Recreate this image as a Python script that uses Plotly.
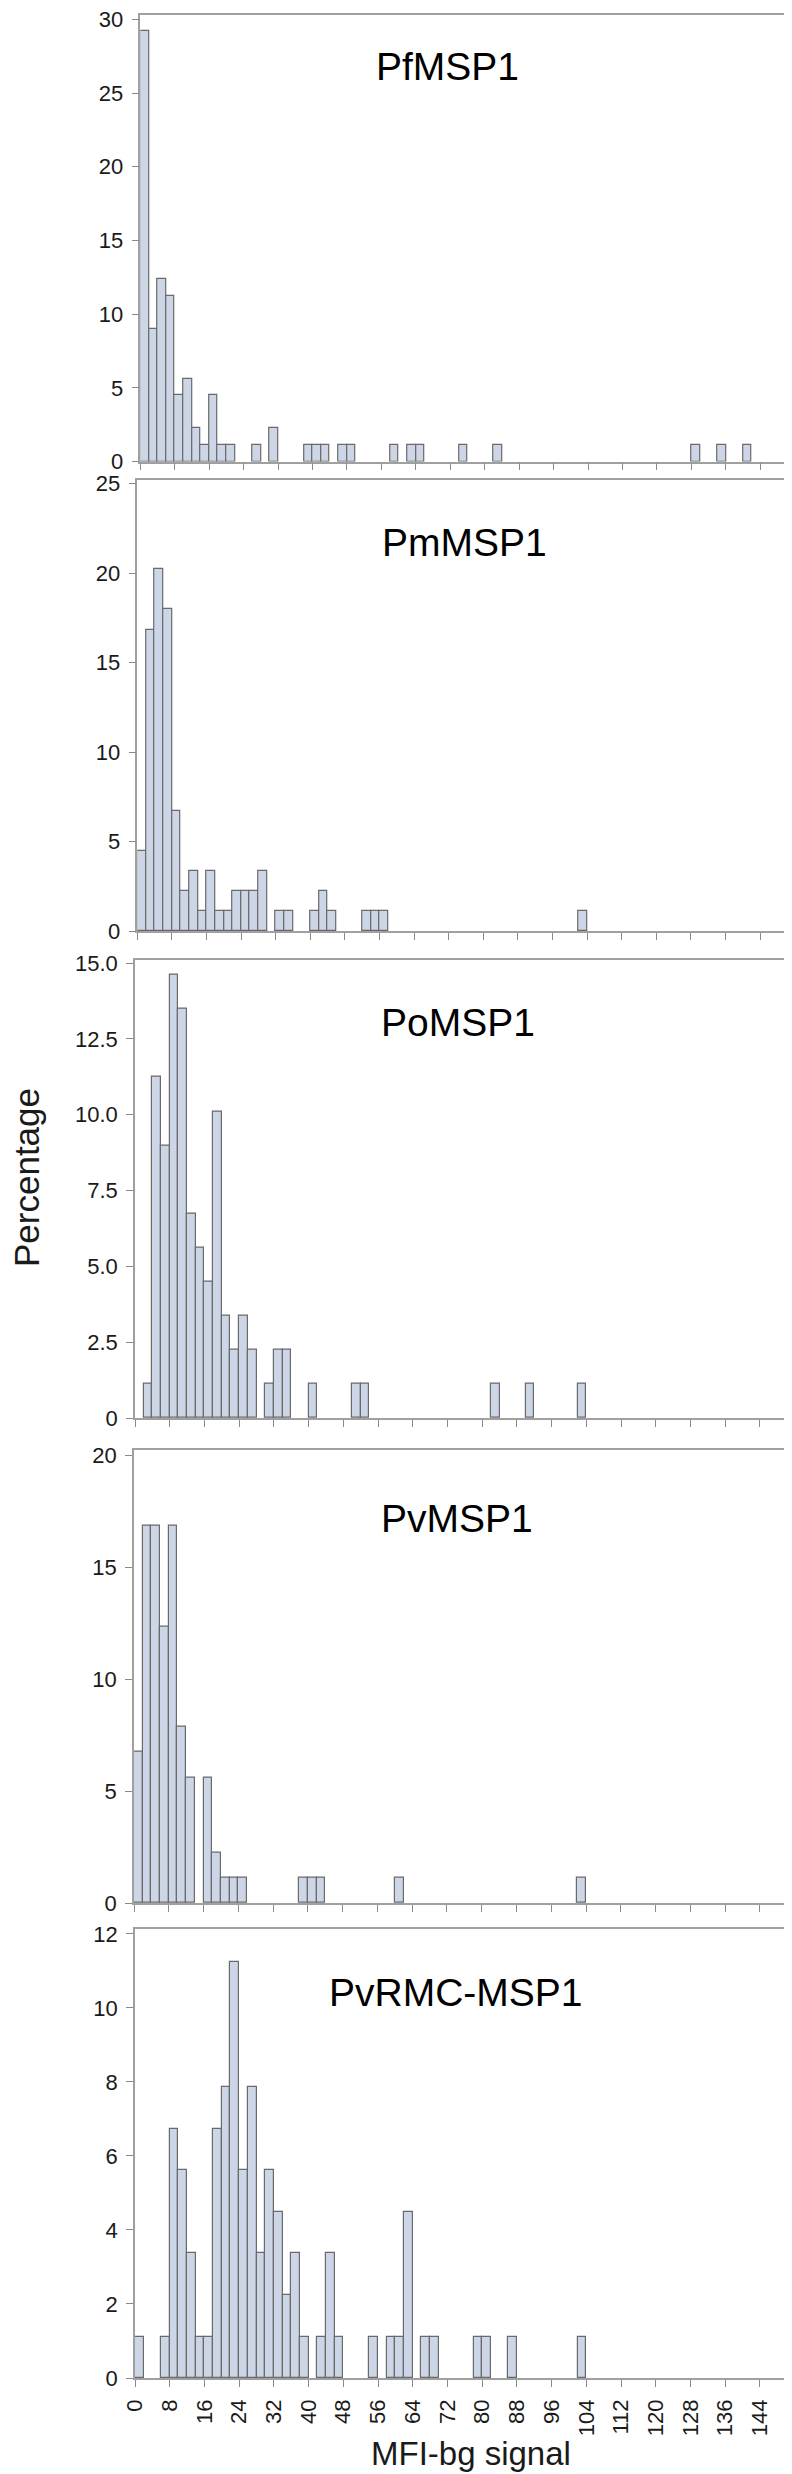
import plotly.graph_objects as go

# ---------------- data (bin left edges, bin width 2; values in %) ----------------
BIN_WIDTH = 2
panel_names = ["PfMSP1", "PmMSP1", "PoMSP1", "PvMSP1", "PvRMC-MSP1"]

pf_edges = [0, 2, 4, 6, 8, 10, 12, 14, 16, 18, 20, 26, 30, 38, 40, 42, 46, 48, 58, 62, 64, 74, 82, 128, 134, 140]
pf_pct = [29.21, 8.99, 12.36, 11.24, 4.49, 5.62, 2.25, 1.12, 4.49, 1.12, 1.12, 1.12, 2.25,
          1.12, 1.12, 1.12, 1.12, 1.12, 1.12, 1.12, 1.12, 1.12, 1.12, 1.12, 1.12, 1.12]

pm_edges = [0, 2, 4, 6, 8, 10, 12, 14, 16, 18, 20, 22, 24, 26, 28, 32, 34, 40, 42, 44, 52, 54, 56, 102]
pm_pct = [4.49, 16.85, 20.22, 17.98, 6.74, 2.25, 3.37, 1.12, 3.37, 1.12, 1.12, 2.25, 2.25, 2.25,
          3.37, 1.12, 1.12, 1.12, 2.25, 1.12, 1.12, 1.12, 1.12, 1.12]

po_edges = [2, 4, 6, 8, 10, 12, 14, 16, 18, 20, 22, 24, 26, 30, 32, 34, 40, 50, 52, 82, 90, 102]
po_pct = [1.12, 11.24, 8.99, 14.61, 13.48, 6.74, 5.62, 4.49, 10.11, 3.37, 2.25, 3.37, 2.25,
          1.12, 2.25, 2.25, 1.12, 1.12, 1.12, 1.12, 1.12, 1.12]

pv_edges = [0, 2, 4, 6, 8, 10, 12, 16, 18, 20, 22, 24, 38, 40, 42, 60, 102]
pv_pct = [6.74, 16.85, 16.85, 12.36, 16.85, 7.87, 5.62, 5.62, 2.25, 1.12, 1.12, 1.12,
          1.12, 1.12, 1.12, 1.12, 1.12]

pvrmc_edges = [0, 6, 8, 10, 12, 14, 16, 18, 20, 22, 24, 26, 28, 30, 32, 34, 36, 38, 42, 44, 46,
               54, 58, 60, 62, 66, 68, 78, 80, 86, 102]
pvrmc_pct = [1.12, 1.12, 6.74, 5.62, 3.37, 1.12, 1.12, 6.74, 7.87, 11.24, 5.62, 7.87, 3.37,
             5.62, 4.49, 2.25, 3.37, 1.12, 1.12, 3.37, 1.12, 1.12, 1.12, 1.12, 4.49, 1.12,
             1.12, 1.12, 1.12, 1.12, 1.12]

edges_all = [pf_edges, pm_edges, po_edges, pv_edges, pvrmc_edges]
pct_all = [pf_pct, pm_pct, po_pct, pv_pct, pvrmc_pct]

y_tickvals = [
    [0, 5, 10, 15, 20, 25, 30],
    [0, 5, 10, 15, 20, 25],
    [0, 2.5, 5, 7.5, 10, 12.5, 15],
    [0, 5, 10, 15, 20],
    [0, 2, 4, 6, 8, 10, 12],
]
y_ticktext = [
    ["0", "5", "10", "15", "20", "25", "30"],
    ["0", "5", "10", "15", "20", "25"],
    ["0", "2.5", "5.0", "7.5", "10.0", "12.5", "15.0"],
    ["0", "5", "10", "15", "20"],
    ["0", "2", "4", "6", "8", "10", "12"],
]
x_tickvals = list(range(0, 145, 8))
x_ticktext = [str(v) for v in x_tickvals]

# ---------------- layout geometry (pixels) ----------------
W, H = 792, 2474
y_max = [30.3, 25.2, 15.11, 20.25, 12.13]
panel_left = [132.3, 129.3, 127.0, 126.0, 127.0]
panel_right = 786.7
panel_top = [7.0, 472.0, 951.7, 1441.7, 1921.0]
panel_bottom = [453.5, 923.3, 1410.0, 1895.0, 2370.0]
title_x = [365.7, 372.3, 371.0, 371.0, 319.3]
title_yc = [58.5, 534.7, 1014.2, 1510.5, 1984.0]

FONT = "Liberation Sans, Arial, Helvetica, sans-serif"
BAR_FILL = "#ccd6e6"
BAR_LINE = "#6a6a6a"
FRAME = "#a0a0a0"
TXT = "#1a1a1a"
TICK_SIZE = 22

fig = go.Figure()
layout = {}
annotations = []
for i in range(5):
    n = "" if i == 0 else str(i + 1)
    xa, ya = "x" + n, "y" + n
    centers = [e + BIN_WIDTH / 2 for e in edges_all[i]]
    fig.add_trace(go.Bar(
        x=centers, y=pct_all[i], width=BIN_WIDTH,
        marker=dict(color=BAR_FILL, line=dict(color=BAR_LINE, width=1.2)),
        xaxis=xa, yaxis=ya, showlegend=False, hoverinfo="x+y",
    ))
    last = (i == 4)
    layout["xaxis" + n] = dict(
        domain=[panel_left[i] / W, panel_right / W],
        range=[0, 152], anchor=ya, automargin=False,
        showline=True, linecolor=FRAME, linewidth=1.5, mirror=True,
        showgrid=False, zeroline=False,
        ticks="outside", ticklen=7, tickwidth=1, tickcolor="#8a8a8a",
        tickvals=x_tickvals, ticktext=x_ticktext,
        showticklabels=last, tickangle=-90,
        tickfont=dict(family=FONT, size=TICK_SIZE, color=TXT),
        ticklabelstandoff=4, ticklabeloverflow="allow",
    )
    layout["yaxis" + n] = dict(
        domain=[1 - panel_bottom[i] / H, 1 - panel_top[i] / H],
        range=[0, y_max[i]], anchor=xa, automargin=False,
        showline=True, linecolor=FRAME, linewidth=1.5, mirror=True,
        showgrid=False, zeroline=False,
        ticks="outside", ticklen=7, tickwidth=1, tickcolor="#8a8a8a",
        tickvals=y_tickvals[i], ticktext=y_ticktext[i],
        tickfont=dict(family=FONT, size=TICK_SIZE, color=TXT),
        ticklabelstandoff=4, ticklabeloverflow="allow",
    )
    annotations.append(dict(
        text=panel_names[i], xref="paper", yref="paper",
        x=title_x[i] / W, y=1 - title_yc[i] / H,
        xanchor="left", yanchor="middle", showarrow=False,
        font=dict(family=FONT, size=39, color="#000000"),
    ))

annotations.append(dict(
    text="Percentage", xref="paper", yref="paper",
    x=18 / W, y=1 - 1170 / H, xanchor="center", yanchor="middle",
    textangle=-90, showarrow=False,
    font=dict(family=FONT, size=35, color=TXT),
))
annotations.append(dict(
    text="MFI-bg signal", xref="paper", yref="paper",
    x=462.7 / W, y=1 - 2466 / H, xanchor="center", yanchor="bottom",
    showarrow=False,
    font=dict(family=FONT, size=33, color=TXT),
))

fig.update_layout(
    template="none",
    width=W, height=H,
    margin=dict(l=0, r=0, t=0, b=0, autoexpand=False),
    paper_bgcolor="white", plot_bgcolor="white",
    bargap=0, annotations=annotations,
    **layout,
)

fig.write_html("out.html")
